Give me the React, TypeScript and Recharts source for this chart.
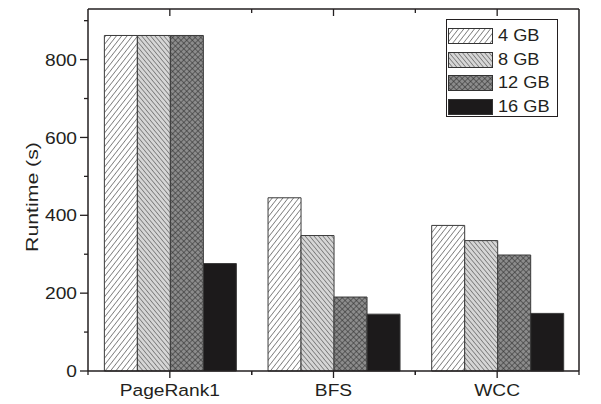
import React from 'react';
import {
  BarChart,
  Bar,
  XAxis,
  YAxis,
  Legend,
  ReferenceLine,
} from 'recharts';

const categories = ['PageRank1', 'BFS', 'WCC'];
const gb4 = [862, 445, 374];
const gb8 = [862, 348, 335];
const gb12 = [862, 190, 298];
const gb16 = [276, 146, 148];
const seriesNames = ['4 GB', '8 GB', '12 GB', '16 GB'];
const yTicks = [0, 100, 200, 300, 400, 500, 600, 700, 800, 900];
const yMax = 930;

const data = categories.map((name, i) => ({
  name,
  g4: gb4[i],
  g8: gb8[i],
  g12: gb12[i],
  g16: gb16[i],
}));

const W = 601;
const H = 404;
const LEFT = 88;
const RIGHT_W = 22;
const TOP = 9;
const XAXIS_H = 33;
const BAND = (W - LEFT - RIGHT_W) / categories.length;
const INK = '#231f20';
const FONT = '"Liberation Sans", Arial, sans-serif';
// the original font renders wider than Arial at the same cap height
const STRETCH = 1.13;

function LeftTick(props: any) {
  const { x, y, payload } = props;
  const major = payload.value % 200 === 0;
  return (
    <g>
      <line x1={x - (major ? 8 : 4)} x2={x} y1={y} y2={y} stroke={INK} strokeWidth={1.3} />
      {major && (
        <text
          transform={`translate(${x - 11},${y}) scale(${STRETCH},1)`}
          dy="0.36em"
          textAnchor="end"
          style={{ fontSize: 17, fontFamily: FONT }}
          fill={INK}
        >
          {payload.value}
        </text>
      )}
    </g>
  );
}

function RightTick(props: any) {
  const { x, y, payload } = props;
  const major = payload.value % 200 === 0;
  return <line x1={x} x2={x - (major ? 8 : 4)} y1={y} y2={y} stroke={INK} strokeWidth={1.3} />;
}

function BottomTick(props: any) {
  const { x, y, payload } = props;
  return (
    <g>
      <line x1={x} x2={x} y1={y} y2={y + 7} stroke={INK} strokeWidth={1.3} />
      <line x1={x - BAND / 2} x2={x - BAND / 2} y1={y} y2={y + 4} stroke={INK} strokeWidth={1.3} />
      <line x1={x + BAND / 2} x2={x + BAND / 2} y1={y} y2={y + 4} stroke={INK} strokeWidth={1.3} />
      <text
        transform={`translate(${x},${y + 25}) scale(${STRETCH},1)`}
        textAnchor="middle"
        style={{ fontSize: 17, fontFamily: FONT }}
        fill={INK}
      >
        {payload.value}
      </text>
    </g>
  );
}

function TopFrame(props: any) {
  const { viewBox } = props;
  if (!viewBox) return null;
  const { x, y, width } = viewBox;
  const marks: React.ReactNode[] = [];
  categories.forEach((_, i) => {
    const cx = x + BAND * (i + 0.5);
    marks.push(<line key={`c${i}`} x1={cx} x2={cx} y1={y} y2={y + 7} stroke={INK} strokeWidth={1.3} />);
    if (i > 0) {
      const bx = x + BAND * i;
      marks.push(<line key={`b${i}`} x1={bx} x2={bx} y1={y} y2={y + 4} stroke={INK} strokeWidth={1.3} />);
    }
  });
  return (
    <g>
      <line x1={x} x2={x + width} y1={y} y2={y} stroke={INK} strokeWidth={1.5} />
      {marks}
    </g>
  );
}

function YLabel(props: any) {
  const { viewBox } = props;
  const cy = viewBox ? viewBox.y + viewBox.height / 2 + 7 : 197;
  return (
    <text
      transform={`translate(38,${cy}) rotate(-90) scale(1.25,1)`}
      textAnchor="middle"
      style={{ fontSize: 17, fontFamily: FONT }}
      fill={INK}
    >
      Runtime (s)
    </text>
  );
}

function LegendBox(props: any) {
  const payload = [...(props.payload || [])].sort(
    (a: any, b: any) => seriesNames.indexOf(a.value) - seriesNames.indexOf(b.value)
  );
  return (
    <div
      style={{
        width: 112,
        height: 98,
        border: `1px solid ${INK}`,
        background: '#fff',
        boxSizing: 'border-box',
        paddingTop: 4,
        fontFamily: FONT,
      }}
    >
      {payload.map((entry: any) => (
        <div key={entry.value} style={{ display: 'flex', alignItems: 'center', height: 23.7 }}>
          <svg width={48} height={16} style={{ marginLeft: 1, display: 'block' }}>
            <rect x={0.5} y={0.5} width={44} height={15} fill={entry.color} stroke="#333" strokeWidth={1} />
          </svg>
          <span
            style={{
              fontSize: 17,
              color: INK,
              marginLeft: 2,
              lineHeight: '16px',
              display: 'inline-block',
              transform: 'scaleX(1.07)',
              transformOrigin: 'left center',
            }}
          >
            {entry.value}
          </span>
        </div>
      ))}
    </div>
  );
}

export default function App() {
  const fills = ['url(#p4)', 'url(#p8)', 'url(#p12)', '#1c1a1b'];
  const keys = ['g4', 'g8', 'g12', 'g16'];
  return (
    <div style={{ position: 'absolute', left: 0, top: 0, width: W, height: H, background: '#fff' }}>
      <BarChart
        width={W}
        height={H}
        data={data}
        margin={{ top: TOP, right: 0, bottom: 0, left: 0 }}
        barCategoryGap="10%"
        barGap={0}
      >
        <defs>
          <pattern id="p4" width={4.2} height={4.2} patternUnits="userSpaceOnUse" patternTransform="rotate(38)">
            <rect width={4.2} height={4.2} fill="#ffffff" />
            <line x1={0} y1={0} x2={0} y2={4.2} stroke="#3a3a3a" strokeWidth={1.1} />
          </pattern>
          <pattern id="p8" width={3.4} height={3.4} patternUnits="userSpaceOnUse" patternTransform="rotate(-40)">
            <rect width={3.4} height={3.4} fill="#d6d6d6" />
            <line x1={0} y1={0} x2={0} y2={3.4} stroke="#3a3a3a" strokeWidth={1} />
          </pattern>
          <pattern id="p12" width={4} height={4} patternUnits="userSpaceOnUse" patternTransform="rotate(45)">
            <rect width={4} height={4} fill="#8c8c8c" />
            <line x1={0} y1={0} x2={0} y2={4} stroke="#2e2e2e" strokeWidth={1.1} />
            <line x1={0} y1={0} x2={4} y2={0} stroke="#2e2e2e" strokeWidth={1.1} />
          </pattern>
        </defs>
        <XAxis
          dataKey="name"
          xAxisId="bottom"
          height={XAXIS_H}
          tickSize={0}
          tickMargin={0}
          tick={<BottomTick />}
          axisLine={{ stroke: INK, strokeWidth: 1.5 }}
          tickLine={false}
          interval={0}
        />
        <YAxis
          yAxisId="left"
          width={LEFT}
          domain={[0, yMax]}
          ticks={yTicks}
          interval={0}
          tickSize={0}
          tickMargin={0}
          tick={<LeftTick />}
          tickLine={false}
          axisLine={{ stroke: INK, strokeWidth: 1.5 }}
          label={<YLabel />}
        />
        <YAxis
          yAxisId="right"
          orientation="right"
          width={RIGHT_W}
          domain={[0, yMax]}
          ticks={yTicks}
          interval={0}
          tickSize={0}
          tickMargin={0}
          tick={<RightTick />}
          tickLine={false}
          axisLine={{ stroke: INK, strokeWidth: 1.5 }}
        />
        <Legend
          content={<LegendBox />}
          verticalAlign="middle"
          align="center"
          layout="vertical"
          wrapperStyle={{ position: 'absolute', left: 446, top: 19, width: 112, height: 98 }}
        />
        {keys.map((k, i) => (
          <Bar
            key={k}
            dataKey={k}
            name={seriesNames[i]}
            fill={fills[i]}
            stroke="#3a3a3a"
            strokeWidth={1}
            xAxisId="bottom"
            yAxisId="left"
            isAnimationActive={false}
          />
        ))}
        <ReferenceLine
          y={yMax}
          xAxisId="bottom"
          yAxisId="left"
          stroke="none"
          label={<TopFrame />}
        />
      </BarChart>
    </div>
  );
}
